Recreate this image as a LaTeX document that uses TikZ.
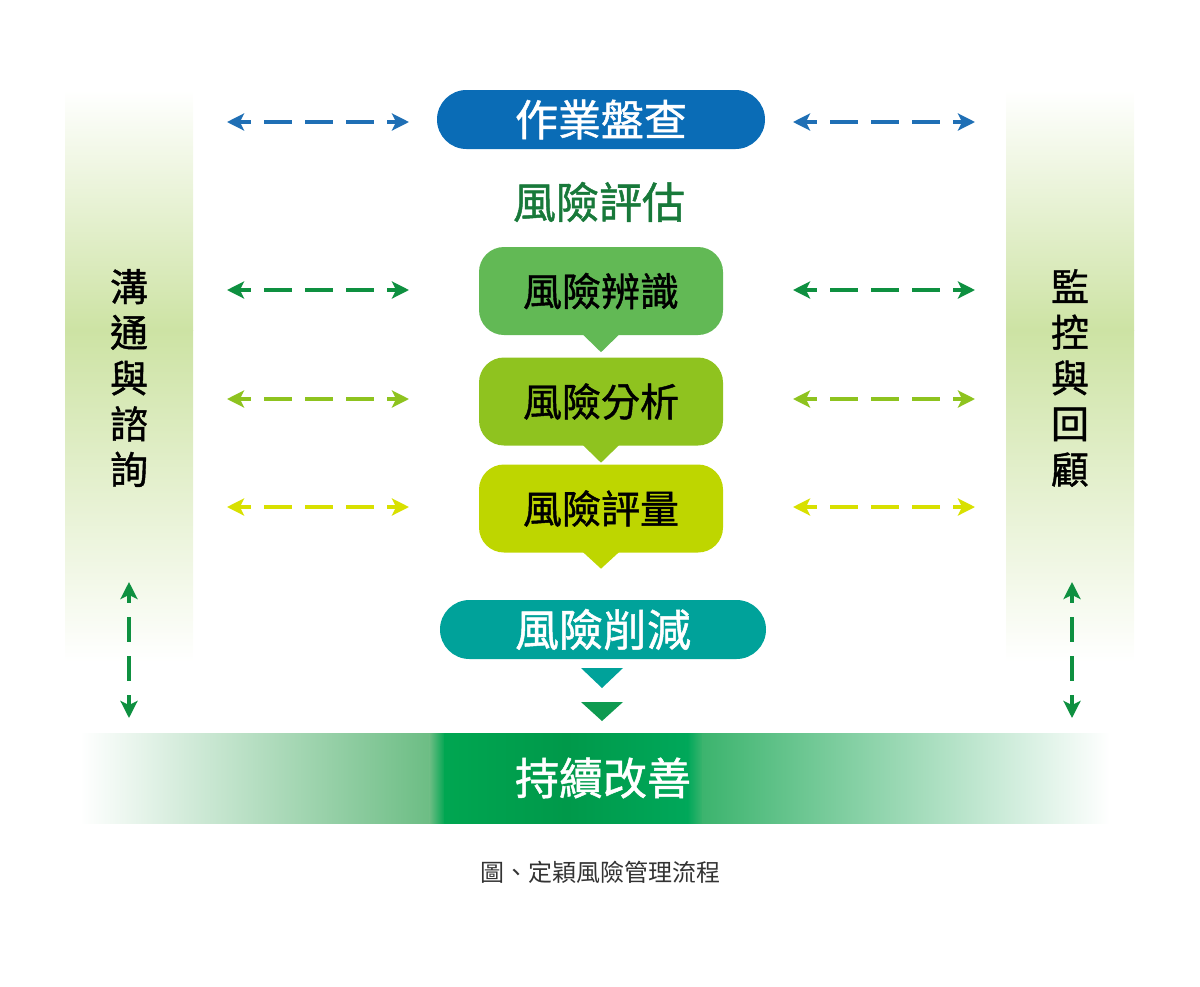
\documentclass[tikz,border=0pt]{standalone}
\usepackage{fontspec}
\newfontfamily\cjk{Noto Sans CJK TC}
\newfontfamily\cjkm[FakeBold=1.1]{Noto Sans CJK TC}
\usetikzlibrary{arrows.meta}
\definecolor{blueBox}{HTML}{0A6CB6}
\definecolor{blueArr}{HTML}{1F6FB5}
\definecolor{titleGreen}{HTML}{18793A}
\definecolor{boxA}{HTML}{62B955}
\definecolor{arrA}{HTML}{0E9040}
\definecolor{boxB}{HTML}{8FC31F}
\definecolor{arrB}{HTML}{8EC31F}
\definecolor{boxC}{HTML}{BED600}
\definecolor{arrC}{HTML}{D8E000}
\definecolor{teal}{HTML}{00A29A}
\definecolor{triG}{HTML}{0E9A50}
\definecolor{barMid}{HTML}{00A651}
\definecolor{barMidR}{HTML}{00A85A}
\definecolor{barDark}{HTML}{00994A}
\definecolor{barL}{HTML}{6CBD84}
\definecolor{barR}{HTML}{3CB46E}
\definecolor{sideG}{HTML}{CDE3A4}
\definecolor{capGray}{HTML}{333333}
\tikzset{
  pill/.style={rounded corners=29.5pt, minimum width=328pt, minimum height=59pt, inner sep=0pt, text=white, font=\cjkm\fontsize{43}{50}\selectfont},
  bubble/.style={rounded corners=25pt, minimum width=244pt, minimum height=88pt, inner sep=0pt, text=black, font=\cjkm\fontsize{39}{46}\selectfont},
  harr/.style={line width=4pt, dash pattern=on 28pt off 13pt, dash phase=16pt, {Stealth[length=17pt,width=17pt,inset=4pt]}-{Stealth[length=17pt,width=17pt,inset=4pt]}},
  varr/.style={line width=4pt, arrA, dash pattern=on 25pt off 14pt, dash phase=16pt, {Stealth[length=17pt,width=17pt,inset=4pt]}-{Stealth[length=17pt,width=17pt,inset=4pt]}},
  sidetext/.style={align=center, inner sep=0pt, text=black, font=\cjkm\fontsize{38}{45.7}\selectfont},
}
\begin{document}
\begin{tikzpicture}[x=1pt,y=-1pt]
\useasboundingbox (0,0) rectangle (1200,986);
% side bars
\shade[top color=white, bottom color=sideG] (65,90) rectangle (193,330);
\shade[top color=sideG, bottom color=white] (65,330) rectangle (193,662);
\shade[top color=white, bottom color=sideG] (1006,90) rectangle (1134,330);
\shade[top color=sideG, bottom color=white] (1006,330) rectangle (1134,662);
\node[sidetext] (lt) at (129,378) {溝\\通\\與\\諮\\詢};
\node[sidetext] (rt) at (1070,378) {監\\控\\與\\回\\顧};
% bottom bar
\shade[left color=white, right color=barL] (80,733) rectangle (430,823);
\shade[left color=barL, right color=barMid] (429.5,733) rectangle (445,823);
\shade[left color=barMid, right color=barMidR, middle color=barDark] (444.5,733) rectangle (688,823);
\shade[left color=barMidR, right color=barR] (687.5,733) rectangle (703,823);
\shade[left color=barR, right color=white] (702.5,733) rectangle (1110,823);
\node[inner sep=0pt, text=white, font=\cjkm\fontsize{44}{50}\selectfont] (imp) at (603,778) {持續改善};
% top pill
\node[pill, fill=blueBox] (audit) at (601,119.5) {作業盤查};
\node[inner sep=0pt, text=titleGreen, font=\cjkm\fontsize{43}{50}\selectfont] (assess) at (599,202) {風險評估};
% bubbles
\node[bubble, fill=boxA] (b1) at (601,291) {風險辨識};
\node[bubble, fill=boxB] (b2) at (601,401.5) {風險分析};
\node[bubble, fill=boxC] (b3) at (601,508.5) {風險評量};
\fill[boxA] ([xshift=-18.5pt,yshift=1pt]b1.south) -- ([xshift=18.5pt,yshift=1pt]b1.south) -- ([yshift=-17pt]b1.south) -- cycle;
\fill[boxB] ([xshift=-18.5pt,yshift=1pt]b2.south) -- ([xshift=18.5pt,yshift=1pt]b2.south) -- ([yshift=-17pt]b2.south) -- cycle;
\fill[boxC] ([xshift=-18.5pt,yshift=1pt]b3.south) -- ([xshift=18.5pt,yshift=1pt]b3.south) -- ([yshift=-16pt]b3.south) -- cycle;
% reduce pill
\node[pill, fill=teal, minimum width=326pt, font=\cjkm\fontsize{44}{50}\selectfont] (red) at (603,629.5) {風險削減};
\coordinate (t1) at (602,668);
\coordinate (t2) at (602,702);
\fill[teal] ([xshift=-21pt]t1) -- ([xshift=21pt]t1) -- ([yshift=-20pt]t1) -- cycle;
\fill[triG] ([xshift=-21pt]t2) -- ([xshift=21pt]t2) -- ([yshift=-19pt]t2) -- cycle;
% horizontal arrows
\foreach \yy/\cc/\nn in {122/blueArr/a, 290/arrA/b, 399/arrB/c, 507/arrC/d}{
  \coordinate (L1\nn) at (227,\yy); \coordinate (L2\nn) at (409,\yy);
  \coordinate (R1\nn) at (793,\yy); \coordinate (R2\nn) at (975,\yy);
  \draw[harr, \cc] (L1\nn) -- (L2\nn);
  \draw[harr, \cc] (R1\nn) -- (R2\nn);
}
% vertical arrows
\coordinate (lv1) at (129,582); \coordinate (lv2) at (129,718);
\coordinate (rv1) at (1072,582); \coordinate (rv2) at (1072,718);
\draw[varr] (lv1) -- (lv2);
\draw[varr] (rv1) -- (rv2);
% caption
\node[inner sep=0pt, text=capGray, font=\cjk\fontsize{24}{28}\selectfont] (cap) at (600,872) {圖、定穎風險管理流程};
\end{tikzpicture}
\end{document}
